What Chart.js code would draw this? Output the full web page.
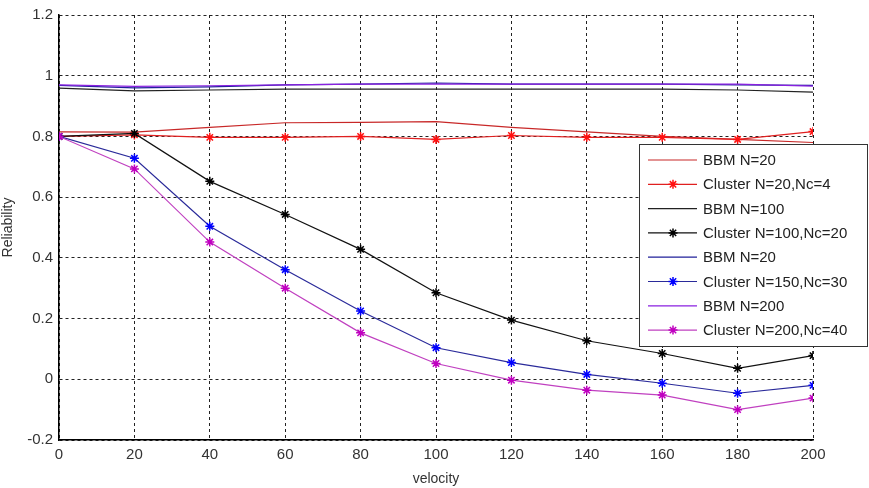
<!DOCTYPE html>
<html>
<head>
<meta charset="utf-8">
<script src="https://cdn.jsdelivr.net/npm/chart.js@4"></script>
<style>
  html, body { margin: 0; padding: 0; background: #fff; }
  #wrap { width: 869px; height: 488px; }
</style>
</head>
<body>
<div id="wrap"><canvas id="relChart" width="869" height="488"></canvas></div>
<script>
// velocity values on the x axis
const velocity = [0, 20, 40, 60, 80, 100, 120, 140, 160, 180, 200];

// reliability
const bbm20 = [0.815, 0.814, 0.83, 0.845, 0.846, 0.849, 0.83, 0.815, 0.8, 0.79, 0.78];
const cluster20 = [0.8, 0.805, 0.797, 0.797, 0.8, 0.79, 0.803, 0.797, 0.797, 0.79, 0.816];
const bbm100 = [0.959, 0.95, 0.953, 0.956, 0.956, 0.956, 0.956, 0.956, 0.956, 0.953, 0.946];
const cluster100 = [0.8, 0.81, 0.652, 0.543, 0.428, 0.285, 0.195, 0.127, 0.085, 0.036, 0.078];
const bbm20b = [0.968, 0.96, 0.963, 0.97, 0.972, 0.976, 0.972, 0.972, 0.972, 0.97, 0.968];
const cluster150 = [0.8, 0.728, 0.504, 0.361, 0.225, 0.104, 0.055, 0.016, -0.013, -0.046, -0.02];
const bbm200 = [0.97, 0.965, 0.967, 0.97, 0.972, 0.972, 0.972, 0.972, 0.972, 0.972, 0.966];
const cluster200 = [0.8, 0.693, 0.452, 0.3, 0.153, 0.052, -0.003, -0.036, -0.052, -0.1, -0.062];

const seriesLabels = [
  'BBM N=20', 'Cluster N=20,Nc=4', 'BBM N=100', 'Cluster N=100,Nc=20',
  'BBM N=20', 'Cluster N=150,Nc=30', 'BBM N=200', 'Cluster N=200,Nc=40'
];
const seriesValues = [bbm20, cluster20, bbm100, cluster100, bbm20b, cluster150, bbm200, cluster200];
const lineColors = ['#c82828', '#e02020', '#222222', '#111111', '#20209a', '#2a2a9a', '#8a20e0', '#c040c0'];
const markerColors = [null, '#ff1010', null, '#000000', null, '#0000ff', null, '#c000c0'];

const toPoints = (vals) => vals.map((v, i) => ({ x: velocity[i], y: v }));

const datasets = seriesValues.map((vals, i) => ({
  label: seriesLabels[i],
  data: toPoints(vals),
  borderColor: lineColors[i],
  borderWidth: 1.2,
  tension: 0,
  fill: false,
  pointStyle: markerColors[i] ? 'star' : false,
  pointRadius: markerColors[i] ? 4.5 : 0,
  pointBorderColor: markerColors[i] || lineColors[i],
  pointBackgroundColor: markerColors[i] || lineColors[i],
  pointBorderWidth: 1.5,
  order: 8 - i,
}));

const FONT = '"Liberation Sans", Arial, sans-serif';

// MATLAB style legend box sitting over the plot
const boxLegend = {
  id: 'boxLegend',
  afterDatasetsDraw(chart) {
    const ctx = chart.ctx;
    const left = 639.5, top = 144.5, w = 228, h = 202;
    ctx.save();
    ctx.fillStyle = '#fff';
    ctx.fillRect(left, top, w, h);
    ctx.strokeStyle = '#333';
    ctx.lineWidth = 1;
    ctx.strokeRect(left, top, w, h);
    ctx.font = '15px ' + FONT;
    ctx.textBaseline = 'middle';
    chart.data.datasets.forEach((ds, i) => {
      const y = 160 + i * 24.3;
      ctx.strokeStyle = ds.borderColor;
      ctx.lineWidth = 1.2;
      ctx.beginPath();
      ctx.moveTo(648, y);
      ctx.lineTo(697, y);
      ctx.stroke();
      if (ds.pointRadius > 0) {
        ctx.strokeStyle = ds.pointBorderColor;
        ctx.lineWidth = 1.5;
        const r = 4.5, cx = 673;
        ctx.beginPath();
        ctx.moveTo(cx - r, y); ctx.lineTo(cx + r, y);
        ctx.moveTo(cx, y - r); ctx.lineTo(cx, y + r);
        const d = r * 0.707;
        ctx.moveTo(cx - d, y - d); ctx.lineTo(cx + d, y + d);
        ctx.moveTo(cx - d, y + d); ctx.lineTo(cx + d, y - d);
        ctx.stroke();
      }
      ctx.fillStyle = '#222';
      ctx.fillText(ds.label, 703, y + 1);
    });
    ctx.restore();
  }
};

// 1.2, 1, 0.8 ... 0, -0.2 like the original
const fmtTick = (v) => {
  const r = Math.round(v * 10) / 10;
  return r === 0 ? '0' : String(r);
};

new Chart(document.getElementById('relChart'), {
  type: 'line',
  data: { datasets: datasets },
  options: {
    responsive: false,
    animation: false,
    layout: { padding: { top: 10, right: 56, left: 0, bottom: 0 } },
    plugins: { legend: { display: false }, tooltip: { enabled: false } },
    scales: {
      x: {
        type: 'linear',
        min: 0,
        max: 200,
        ticks: { stepSize: 20, color: '#333', font: { family: FONT, size: 15 }, padding: 6 },
        grid: { color: '#222', lineWidth: 1, drawTicks: false },
        border: { display: true, color: '#000', width: 1.5, dash: [3, 3] },
        title: { display: true, text: 'velocity', color: '#333', font: { family: FONT, size: 14 }, padding: { top: 2, bottom: 0 } },
        afterFit(scale) { scale.height = 48; }
      },
      y: {
        min: -0.2,
        max: 1.2,
        ticks: { stepSize: 0.2, color: '#333', font: { family: FONT, size: 15 }, padding: 6, callback: fmtTick },
        grid: { color: '#222', lineWidth: 1, drawTicks: false },
        border: { display: true, color: '#000', width: 1.5, dash: [3, 3] },
        title: { display: true, text: 'Reliability', color: '#333', font: { family: FONT, size: 14 }, padding: { top: 0, bottom: 0 } },
        afterFit(scale) { scale.width = 59; }
      }
    }
  },
  plugins: [boxLegend]
});
</script>
</body>
</html>
